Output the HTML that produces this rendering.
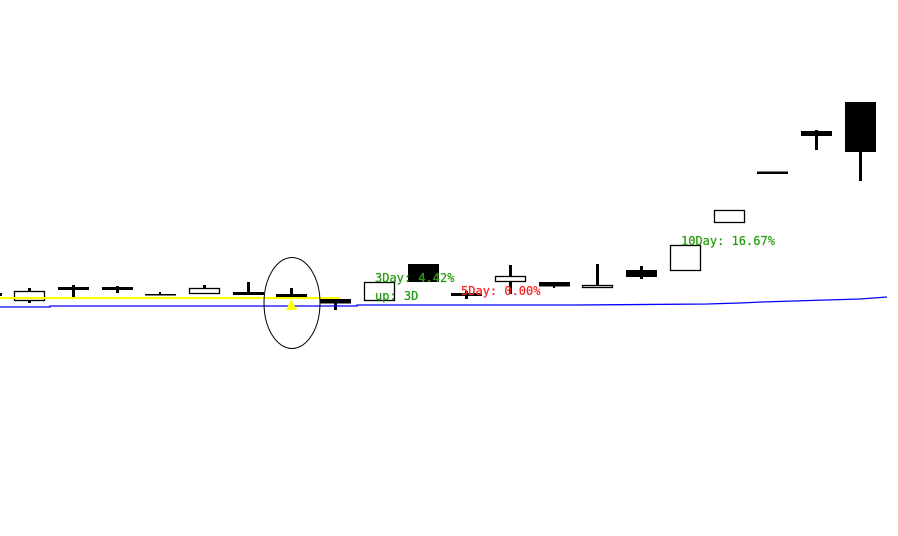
<!DOCTYPE html>
<html><head><meta charset="utf-8"><style>
html,body{margin:0;padding:0;background:#fff;width:898px;height:536px;overflow:hidden}
svg{display:block}
text{font-family:"DejaVu Sans Mono","Liberation Mono",monospace;font-size:12px}
</style></head><body>
<svg width="898" height="536" viewBox="0 0 898 536" xmlns="http://www.w3.org/2000/svg">
<g fill="#000" stroke="none">
<rect x="0" y="293" width="2" height="3"/>
<rect x="28" y="288" width="3" height="15"/>
<rect x="72" y="285" width="3" height="12"/>
<rect x="116" y="286" width="3" height="7"/>
<rect x="159" y="292" width="2" height="3"/>
<rect x="203" y="285" width="3" height="4"/>
<rect x="247" y="282" width="3" height="12"/>
<rect x="290" y="288" width="3" height="8"/>
<rect x="334" y="302" width="3" height="8"/>
<rect x="465" y="291" width="3" height="8"/>
<rect x="509" y="265" width="3" height="29"/>
<rect x="553" y="282" width="2" height="6"/>
<rect x="596" y="264" width="3" height="22"/>
<rect x="640" y="266" width="3" height="13"/>
<rect x="815" y="130" width="3" height="20"/>
<rect x="859" y="150" width="3" height="31"/>
<rect x="58" y="287" width="31" height="3"/>
<rect x="102" y="287" width="31" height="3"/>
<rect x="145" y="294" width="31" height="1.5"/>
<rect x="233" y="292" width="31" height="3"/>
<rect x="276" y="294" width="31" height="3"/>
<rect x="451" y="293" width="31" height="3"/>
<rect x="757" y="171.5" width="31" height="2.5"/>
<rect x="320" y="299" width="31" height="4.5"/>
<rect x="408" y="264" width="31" height="18"/>
<rect x="539" y="282" width="31" height="4.5"/>
<rect x="626" y="270" width="31" height="7"/>
<rect x="801" y="131" width="31" height="5"/>
<rect x="845" y="102" width="31" height="50"/>
</g>
<g fill="#fff" stroke="#000" stroke-width="1.3">
<rect x="14.5" y="291.5" width="30" height="9"/>
<rect x="189.5" y="288.5" width="30" height="5"/>
<rect x="364.5" y="282.5" width="30" height="18"/>
<rect x="495.5" y="276.5" width="30" height="5"/>
<rect x="582.5" y="285.5" width="30" height="2"/>
<rect x="670.5" y="245.5" width="30" height="25"/>
<rect x="714.5" y="210.5" width="30" height="12"/>
</g>
<rect x="509" y="265" width="3" height="11" fill="#000"/>
<rect x="509" y="282" width="3" height="12" fill="#000"/>
<line x1="0" y1="298" x2="340" y2="298" stroke="#ffff00" stroke-width="2"/>
<polyline points="0,307 50,307 50,306 357,306 357,305 575,305 707,304 740,303 762,302 794,301 826,300 860,299 887,297" fill="none" stroke="#0000ff" stroke-width="1.3"/>
<ellipse cx="292" cy="303" rx="28" ry="45.5" fill="none" stroke="#000" stroke-width="1"/>
<polygon points="291,299 286,310 297,310" fill="#ffff00"/>
<text x="375" y="282" fill="#119911" stroke="#55aa22" stroke-width="0.3">3Day: 4.42%</text>
<text x="375" y="300" fill="#119911" stroke="#55aa22" stroke-width="0.3">up: 3D</text>
<text x="461" y="295" fill="#ff1010" stroke="#ff5050" stroke-width="0.3">5Day: 0.00%</text>
<text x="681" y="245" fill="#119911" stroke="#55aa22" stroke-width="0.3">10Day: 16.67%</text>
</svg>
</body></html>
